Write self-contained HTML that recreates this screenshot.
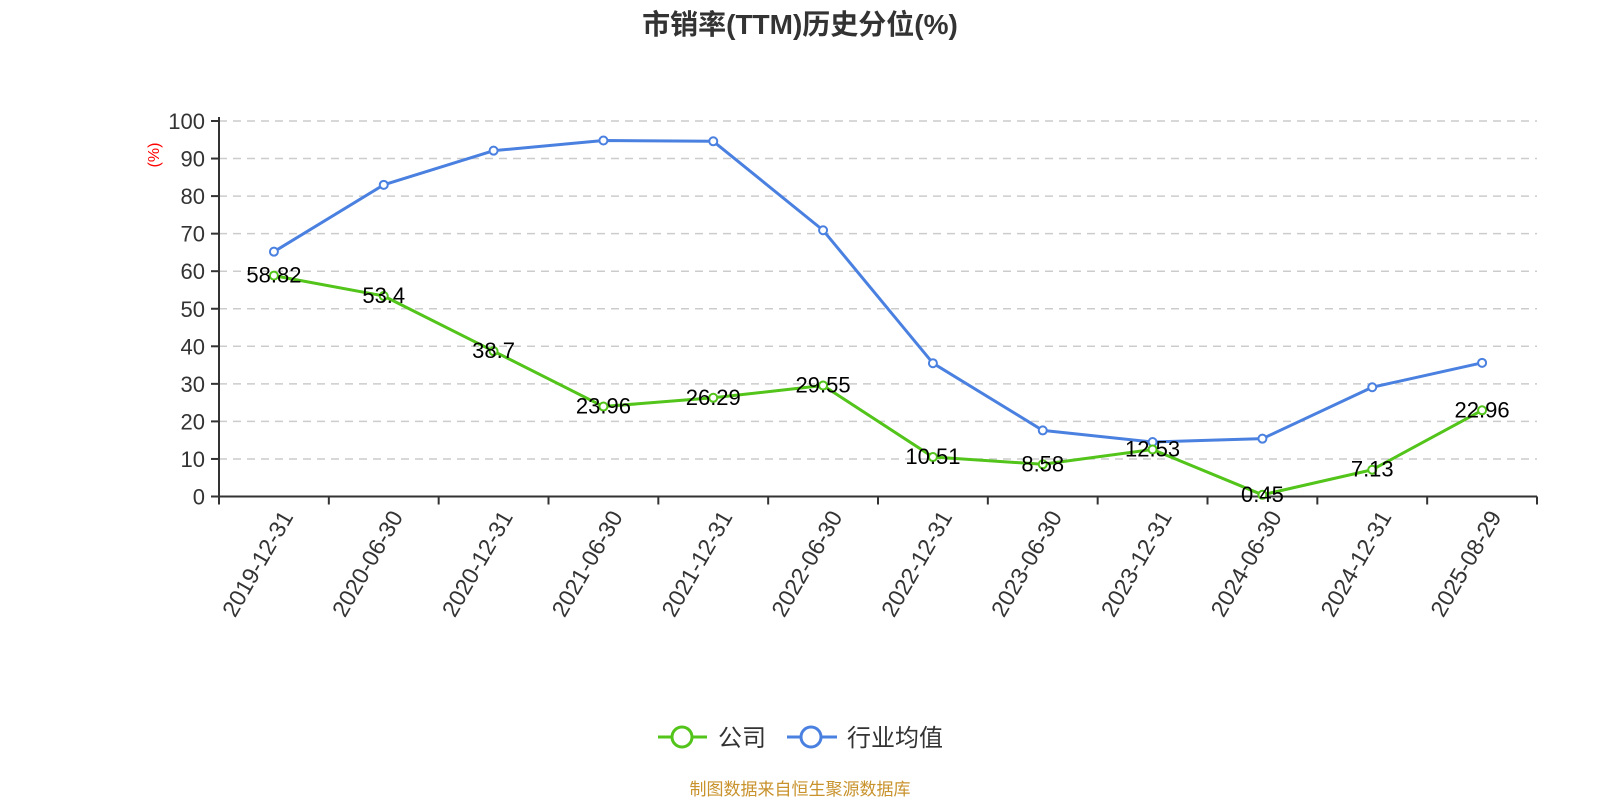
<!DOCTYPE html>
<html><head><meta charset="utf-8"><style>
body{margin:0;background:#fff;}
svg{display:block;font-family:"Liberation Sans","Noto Sans CJK SC",sans-serif;}
</style></head><body>
<svg id="chart" width="1600" height="800">
<text x="800" y="34" text-anchor="middle" font-size="28" font-weight="bold" fill="#333">市销率(TTM)历史分位(%)</text>
<text transform="translate(159,155) rotate(-90)" text-anchor="middle" font-size="16" fill="#f00">(%)</text>
<g id="grid"></g><g id="series"></g>
<g>
<g>
<line x1="658" y1="737" x2="707" y2="737" stroke="#52c41a" stroke-width="3"/>
<circle cx="682" cy="737" r="10" fill="#fff" stroke="#52c41a" stroke-width="3"/>
<text x="718" y="746" font-size="24" fill="#333">公司</text></g>
<g>
<line x1="787" y1="737" x2="837" y2="737" stroke="#4a80e0" stroke-width="3"/>
<circle cx="811" cy="737" r="10" fill="#fff" stroke="#4a80e0" stroke-width="3"/>
<text x="847" y="746" font-size="24" fill="#333">行业均值</text></g>
</g>
<text x="800" y="795" text-anchor="middle" font-size="17" fill="#c8922c">制图数据来自恒生聚源数据库</text>
</svg>
<script>
const categories=["2019-12-31","2020-06-30","2020-12-31","2021-06-30","2021-12-31","2022-06-30","2022-12-31","2023-06-30","2023-12-31","2024-06-30","2024-12-31","2025-08-29"];
const companyValues=[58.82,53.4,38.7,23.96,26.29,29.55,10.51,8.58,12.53,0.45,7.13,22.96];
const industryValues=[65.2,83.0,92.1,94.8,94.6,70.9,35.5,17.6,14.5,15.4,29.1,35.6];
const yTicks=[0,10,20,30,40,50,60,70,80,90,100];
const L=219,R=1537,T=121,B=496.5;
const band=(R-L)/categories.length;
const xs=i=>L+band*(i+0.5);
const ys=v=>B-(v/100)*(B-T);
const NS="http://www.w3.org/2000/svg";
function mk(tag,attrs,parent){const e=document.createElementNS(NS,tag);for(const k in attrs)e.setAttribute(k,attrs[k]);parent.appendChild(e);return e;}
const grid=document.getElementById('grid'),ser=document.getElementById('series');
yTicks.forEach(t=>{const y=ys(t);
 if(t>0){const g=mk('line',{x1:L,x2:R,y1:y,y2:y,stroke:'#ccc','stroke-width':1.5,'stroke-dasharray':'8,6'},grid);
 
 }
 const tk=mk('line',{x1:L-8,x2:L,y1:y,y2:y,stroke:'#333','stroke-width':2},grid);
 
 
 const tx=mk('text',{x:L-14,y:y+8,'text-anchor':'end','font-size':22,fill:'#333'},grid);tx.textContent=t;
 
 
});
const ya=mk('line',{x1:L,x2:L,y1:T-4,y2:B,stroke:'#333','stroke-width':2},grid);


const xa=mk('line',{x1:L,x2:R,y1:B,y2:B,stroke:'#333','stroke-width':2},grid);


for(let i=0;i<=categories.length;i++){const x=L+band*i;const tk=mk('line',{x1:x,x2:x,y1:B,y2:B+8,stroke:'#333','stroke-width':2},grid);
 
 }
categories.forEach((c,i)=>{const tx=mk('text',{transform:`translate(${xs(i)+6},${B+12}) rotate(-60)`,'text-anchor':'end','font-size':23,fill:'#333',dy:'0.7em'},grid);tx.textContent=c;
 
 });
function drawSeries(vals,color,name,labels){
 const p=mk('polyline',{points:vals.map((v,i)=>xs(i)+','+ys(v)).join(' '),fill:'none',stroke:color,'stroke-width':3,'stroke-linejoin':'round'},ser);
 
 
 vals.forEach((v,i)=>{const c=mk('circle',{cx:xs(i),cy:ys(v),r:4,fill:'#fff',stroke:color,'stroke-width':2},ser);
  
  });
 if(labels)vals.forEach((v,i)=>{const t=mk('text',{x:xs(i),y:ys(v)+7,'text-anchor':'middle','font-size':22,fill:'#000'},ser);t.textContent=v;
  
  });
}
drawSeries(industryValues,'#4a80e0','industry-average',false);
drawSeries(companyValues,'#52c41a','company',true);
</script>
</body></html>
